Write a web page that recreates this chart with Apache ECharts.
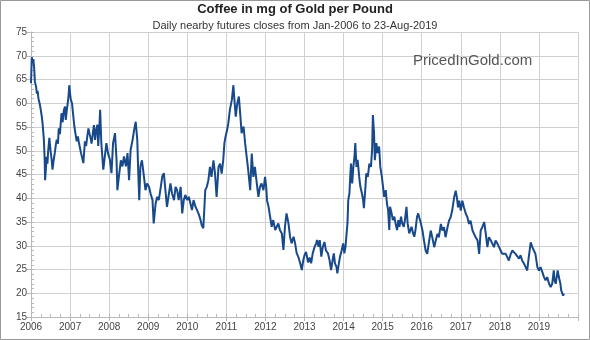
<!DOCTYPE html>
<html>
<head>
<meta charset="utf-8">
<script src="https://cdn.jsdelivr.net/npm/echarts@6/dist/echarts.min.js"></script>
<style>
html,body{margin:0;padding:0;background:#fff;}
#chart{width:590px;height:340px;}
</style>
</head>
<body>
<div id="chart"></div>
<script>
// Time in fractional years, value in mg of gold per pound
const years = [
2006.00,2006.02,2006.04,2006.06,2006.08,2006.10,2006.13,2006.15,2006.17,2006.19,2006.22,2006.25,2006.28,2006.30,2006.33,2006.35,2006.36,2006.38,2006.40,2006.42,2006.44,2006.47,2006.50,2006.53,2006.55,2006.58,2006.61,2006.64,2006.66,2006.69,2006.71,2006.74,2006.78,2006.81,2006.84,2006.87,2006.89,2006.92,2006.94,2006.96,2006.98,
2007.00,2007.02,2007.05,2007.08,2007.11,2007.14,2007.17,2007.20,2007.22,2007.25,2007.28,2007.31,2007.34,2007.38,2007.41,2007.44,2007.47,2007.50,2007.53,2007.55,2007.58,2007.61,2007.64,2007.67,2007.70,2007.72,2007.75,2007.77,2007.80,2007.85,2007.89,2007.93,2007.97,
2008.02,2008.06,2008.10,2008.15,2008.19,2008.21,2008.26,2008.30,2008.34,2008.38,2008.43,2008.47,2008.51,2008.55,2008.60,2008.64,2008.68,2008.72,2008.74,2008.77,2008.80,2008.84,2008.89,2008.93,2008.97,
2009.02,2009.06,2009.11,2009.14,2009.19,2009.23,2009.27,2009.31,2009.36,2009.40,2009.44,2009.48,2009.53,2009.57,2009.61,2009.66,2009.70,2009.74,2009.78,2009.83,2009.87,2009.91,2009.95,
2010.00,2010.04,2010.08,2010.12,2010.16,2010.21,2010.25,2010.30,2010.34,2010.37,2010.41,2010.43,2010.46,2010.50,2010.54,2010.58,2010.62,2010.67,2010.71,2010.75,2010.80,2010.84,2010.88,2010.92,2010.95,2010.98,
2011.02,2011.05,2011.09,2011.14,2011.18,2011.20,2011.24,2011.28,2011.32,2011.36,2011.39,2011.44,2011.48,2011.52,2011.56,2011.61,2011.65,2011.69,2011.73,2011.78,2011.82,2011.86,2011.90,2011.95,2011.99,
2012.02,2012.04,2012.08,2012.12,2012.16,2012.20,2012.25,2012.29,2012.33,2012.37,2012.42,2012.46,2012.50,2012.54,2012.59,2012.63,2012.67,2012.72,2012.76,2012.80,2012.84,2012.89,2012.93,2012.97,
2013.00,2013.04,2013.09,2013.13,2013.17,2013.21,2013.26,2013.30,2013.32,2013.36,2013.39,2013.43,2013.47,2013.51,2013.55,2013.60,2013.64,2013.68,2013.72,2013.75,2013.78,2013.82,2013.84,2013.88,2013.91,2013.95,2013.99,
2014.02,2014.05,2014.07,2014.10,2014.12,2014.15,2014.17,2014.19,2014.22,2014.25,2014.28,2014.30,2014.33,2014.36,2014.40,2014.43,2014.47,2014.50,2014.52,2014.56,2014.58,2014.62,2014.66,2014.70,2014.73,2014.75,2014.78,2014.80,2014.84,2014.87,2014.91,2014.94,2014.98,
2015.01,2015.04,2015.08,2015.11,2015.14,2015.17,2015.19,2015.23,2015.26,2015.30,2015.33,2015.37,2015.40,2015.43,2015.47,2015.50,2015.54,2015.57,2015.61,2015.64,2015.68,2015.71,2015.74,2015.78,2015.81,2015.84,2015.88,2015.91,2015.93,2015.97,
2016.02,2016.06,2016.10,2016.14,2016.19,2016.23,2016.27,2016.32,2016.36,2016.40,2016.44,2016.49,2016.53,2016.57,2016.61,2016.66,2016.70,2016.74,2016.78,2016.83,2016.87,2016.90,2016.93,2016.96,
2017.00,2017.04,2017.08,2017.13,2017.17,2017.21,2017.25,2017.30,2017.34,2017.38,2017.43,2017.47,2017.51,2017.55,2017.60,2017.64,2017.68,2017.72,2017.77,2017.81,2017.85,2017.89,2017.94,2017.98,
2018.02,2018.06,2018.11,2018.15,2018.19,2018.23,2018.28,2018.32,2018.36,2018.40,2018.45,2018.49,2018.53,2018.57,2018.62,2018.66,2018.70,2018.74,2018.79,2018.83,2018.87,2018.91,2018.96,
2019.00,2019.04,2019.09,2019.13,2019.17,2019.21,2019.26,2019.30,2019.34,2019.38,2019.40,2019.43,2019.48,2019.51,2019.55,2019.57,2019.62,2019.64
];
const mgGold = [
64.2,69.7,68.5,69.3,67.5,64.5,63.5,62.0,62.6,61.0,60.0,58.6,57.0,55.4,52.3,48.0,43.8,46.0,48.7,47.3,50.0,52.7,50.0,48.0,46.0,48.0,49.6,51.5,52.3,51.5,54.7,53.5,57.9,56.0,58.5,59.3,56.5,58.8,60.0,61.5,63.8,
62.0,60.7,60.0,57.5,55.1,53.5,52.0,53.0,52.0,51.6,49.5,48.5,47.4,52.0,51.0,53.0,54.7,53.5,52.5,51.5,53.5,55.4,52.3,54.5,55.5,51.0,55.0,58.6,51.6,46.0,48.8,51.6,49.5,
48.1,45.3,51.6,53.7,48.0,41.7,45.3,48.0,46.7,48.8,46.7,49.5,43.8,50.2,52.3,54.4,56.1,52.3,46.7,39.6,46.7,48.0,44.6,41.7,43.1,
42.4,41.0,39.6,34.7,38.9,40.3,39.6,41.7,44.6,45.3,41.7,38.2,41.0,43.1,41.0,39.6,42.4,41.7,39.6,42.4,36.8,39.6,40.7,
39.6,40.3,38.9,37.5,39.6,38.2,37.5,36.5,35.4,34.3,33.7,36.8,41.7,42.4,43.8,46.6,44.5,48.0,45.2,40.3,46.6,47.3,45.2,48.0,51.6,53.0,
54.4,55.8,58.6,60.7,63.8,61.4,57.2,60.0,61.4,57.2,53.7,55.1,51.6,48.7,45.9,41.7,49.4,44.5,46.6,43.1,40.3,42.4,43.1,41.7,44.5,
42.4,39.6,38.2,36.1,34.0,35.4,33.3,34.0,34.7,33.3,32.6,29.1,34.0,36.8,34.7,31.9,30.5,31.9,30.5,28.4,27.7,26.3,24.9,27.0,
28.0,28.7,26.5,27.5,26.3,28.4,29.8,30.5,31.2,29.8,31.2,27.7,29.8,30.8,29.0,28.4,27.0,24.9,27.0,28.4,26.3,25.5,24.2,26.3,27.7,29.0,30.5,
28.4,29.8,31.9,34.7,39.6,41.0,44.5,47.3,43.1,46.6,48.8,51.6,46.6,48.1,44.5,42.4,41.0,39.6,37.9,42.4,45.2,44.5,47.3,46.6,50.2,57.5,53.7,48.0,51.6,49.5,50.9,46.6,44.5,
42.4,40.3,41.7,38.9,37.5,33.3,38.2,36.8,35.4,36.1,34.7,33.3,35.4,34.0,36.1,34.7,34.0,35.4,38.2,34.7,32.6,33.3,34.0,32.6,31.9,33.3,36.1,36.8,36.7,35.0,
33.2,31.0,29.0,28.3,31.0,33.2,31.8,29.7,31.1,32.5,31.8,34.6,33.2,33.9,31.8,33.9,35.3,36.0,37.4,40.2,41.6,40.2,38.1,39.5,
37.4,39.5,38.1,36.7,36.0,34.6,35.3,33.2,32.5,31.8,31.1,28.3,33.2,33.9,35.0,32.5,29.7,31.8,31.1,30.4,29.7,31.1,30.4,29.7,
29.0,28.3,28.7,28.3,27.6,26.9,28.3,29.0,29.0,28.3,28.0,27.3,28.0,26.9,26.2,25.5,24.8,27.6,30.7,29.7,29.0,28.3,25.5,
24.8,25.5,24.4,23.4,22.7,23.4,22.0,21.3,22.0,24.8,22.7,22.0,24.8,23.4,22.0,20.6,19.5,19.9
];
const yearTicks = [2006,2007,2008,2009,2010,2011,2012,2013,2014,2015,2016,2017,2018,2019];
const valueTicks = [15,20,25,30,35,40,45,50,55,60,65,70,75];

const seriesData = years.map((y, i) => [y, mgGold[i]]);
const chart = echarts.init(document.getElementById('chart'), null, {renderer: 'canvas'});
const font = 'Liberation Sans, Arial, sans-serif';
chart.setOption({
  animation: false,
  backgroundColor: '#fff',
  title: {
    text: 'Coffee in mg of Gold per Pound',
    subtext: 'Daily nearby futures closes from Jan-2006 to 23-Aug-2019',
    left: 'center',
    top: 3,
    padding: 0,
    itemGap: 4,
    textStyle: {fontFamily: font, fontSize: 13, fontWeight: 'bold', color: '#222'},
    subtextStyle: {fontFamily: font, fontSize: 11, color: '#333'}
  },
  graphic: [
    {type: 'rect', silent: true, shape: {x: 0.5, y: 0.5, width: 589, height: 339}, style: {fill: 'none', stroke: '#999', lineWidth: 1}},
    {type: 'text', silent: true, left: 413, top: 53, z: 10,
     style: {text: 'PricedInGold.com', fill: '#555', font: '15px "Liberation Sans", sans-serif'}}
  ],
  grid: {left: 31, right: 12, top: 32, bottom: 23},
  xAxis: [
    {
      type: 'value', min: yearTicks[0], max: 2020, interval: 1,
      axisLine: {show: true, lineStyle: {color: '#b8b8b8'}},
      axisTick: {show: true, length: 4, lineStyle: {color: '#b8b8b8'}},
      axisLabel: {fontFamily: font, fontSize: 10, color: '#444', margin: 5,
        formatter: v => (yearTicks.indexOf(v) >= 0 ? String(v) : '')},
      splitLine: {show: true, lineStyle: {color: '#d0d0d0'}}
    },
    {
      type: 'value', position: 'bottom', min: 2006, max: 2020, interval: 0.25,
      axisLine: {show: false},
      axisTick: {show: true, inside: true, length: 3, lineStyle: {color: '#b8b8b8'}},
      axisLabel: {show: false},
      splitLine: {show: false}
    }
  ],
  yAxis: [
    {
      type: 'value', min: valueTicks[0], max: 75, interval: 5,
      axisLine: {show: true, lineStyle: {color: '#b8b8b8'}},
      axisTick: {show: true, length: 4, lineStyle: {color: '#b8b8b8'}},
      axisLabel: {fontFamily: font, fontSize: 10, color: '#444', margin: 4},
      splitLine: {show: true, lineStyle: {color: '#d0d0d0'}}
    },
    {
      type: 'value', position: 'left', min: 15, max: 75, interval: 1,
      axisLine: {show: false},
      axisTick: {show: true, inside: true, length: 3, lineStyle: {color: '#b8b8b8'}},
      axisLabel: {show: false},
      splitLine: {show: false}
    }
  ],
  series: [{
    type: 'line',
    xAxisIndex: 0,
    yAxisIndex: 0,
    data: seriesData,
    showSymbol: false,
    symbol: 'none',
    lineStyle: {color: '#17498b', width: 2},
    z: 5
  }]
});
</script>
</body>
</html>
